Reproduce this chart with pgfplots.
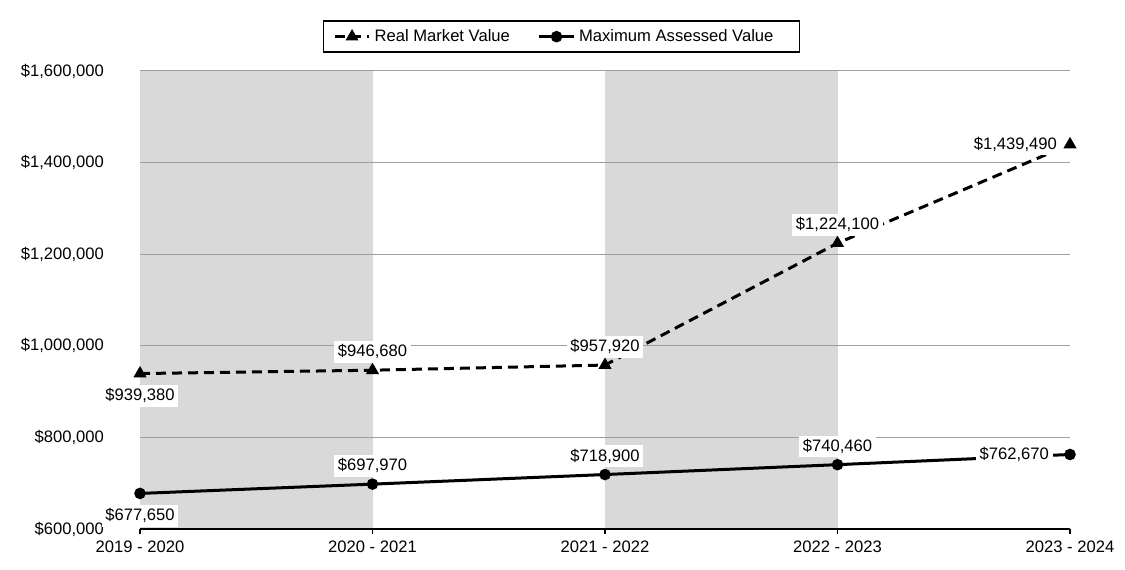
\documentclass[border=0pt]{standalone}
\usepackage{fontspec}
\setmainfont{Liberation Sans}
\usepackage{pgfplots}
\pgfplotsset{compat=1.18}
\begin{document}
\begin{tikzpicture}[font=\fontsize{8.3}{10}\selectfont]
\begin{axis}[
  set layers=standard,
  scale only axis, width=465pt, height=229pt,
  clip=false,
  xmin=0, xmax=4, ymin=600000, ymax=1600000,
  scaled y ticks=false,
  xtick={0,1,2,3,4},
  xticklabels={2019 - 2020, 2020 - 2021, 2021 - 2022, 2022 - 2023, 2023 - 2024},
  ytick={600000,800000,1000000,1200000,1400000,1600000},
  yticklabels={{\$600,000},{\$800,000},{\$1,000,000},{\$1,200,000},{\$1,400,000},{\$1,600,000}},
  axis x line=bottom, axis y line=left,
  x axis line style={-, black, line width=0.8pt},
  y axis line style={draw=none},
  xtick style={black, line width=0.7pt},
  ytick style={draw=none},
  tick align=outside, major tick length=2.5pt,
  yticklabel style={xshift=-12pt},
  ymajorgrids, grid style={black!38, line width=0.5pt},
  legend columns=2,
  legend style={at={(0.4532,1)}, anchor=south, yshift=9pt, draw=black, line width=0.8pt,
    inner xsep=5pt, inner ysep=2pt,
    /tikz/every even column/.append style={column sep=12pt},
    font=\fontsize{8.3}{10}\selectfont},
  every node near coord/.append style={fill=white, inner sep=1.8pt, text=black,
    font=\fontsize{8.3}{10}\selectfont},
]
\begin{pgfonlayer}{axis background}
  \fill[black!15] (axis cs:0,600000) rectangle (axis cs:1,1600000);
  \fill[black!15] (axis cs:2,600000) rectangle (axis cs:3,1600000);
\end{pgfonlayer}

\addplot[black, line width=1.5pt, dash pattern=on 5pt off 3pt,
  mark=triangle*, mark size=2.3pt, mark options={solid},
  nodes near coords, point meta=explicit symbolic,
  coordinate style/.condition={\coordindex==0}{anchor=north, yshift=-5pt},
  coordinate style/.condition={\coordindex==4}{anchor=east, xshift=-4pt, yshift=0pt},
  coordinate style/.condition={\coordindex>0 && \coordindex<4}{anchor=south, yshift=3pt},
] coordinates {
  (0,939380) [\$939,380]
  (1,946680) [\$946,680]
  (2,957920) [\$957,920]
  (3,1224100) [\$1,224,100]
  (4,1439490) [\$1,439,490]
};
\addlegendentry{Real Market Value}

\addplot[black, line width=1.5pt, solid,
  mark=*, mark size=2.1pt,
  nodes near coords, point meta=explicit symbolic,
  coordinate style/.condition={\coordindex==0}{anchor=north, yshift=-5pt},
  coordinate style/.condition={\coordindex==4}{anchor=east, xshift=-8pt, yshift=0pt},
  coordinate style/.condition={\coordindex>0 && \coordindex<4}{anchor=south, yshift=3pt},
] coordinates {
  (0,677650) [\$677,650]
  (1,697970) [\$697,970]
  (2,718900) [\$718,900]
  (3,740460) [\$740,460]
  (4,762670) [\$762,670]
};
\addlegendentry{Maximum Assessed Value\hspace*{6pt}}
\end{axis}
\pgfresetboundingbox
\path ([shift={(-70pt,-20.5pt)}]current axis.south west)
  rectangle ([shift={(27.5pt,35.5pt)}]current axis.north east);
\end{tikzpicture}
\end{document}
